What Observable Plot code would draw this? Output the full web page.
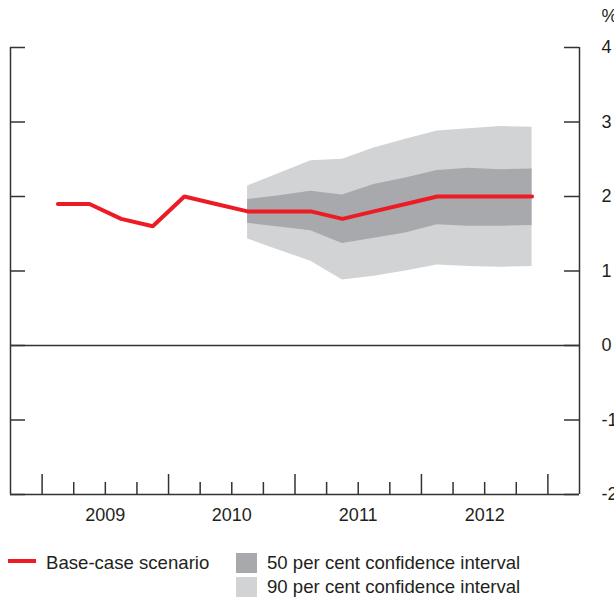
<!DOCTYPE html>
<html>
<head>
<meta charset="utf-8">
<script src="https://cdn.jsdelivr.net/npm/d3@7"></script>
<script src="https://cdn.jsdelivr.net/npm/@observablehq/plot@0.6"></script>
<style>
  html, body { margin: 0; padding: 0; background: #fff; }
  #chart svg { display: block; }
  #legend { position: relative; width: 614px; height: 60px; font-family: "Liberation Sans", Arial, sans-serif; font-size: 18.6px; color: #231f20; }
  #legend .item { position: absolute; line-height: 24px; white-space: nowrap; }
  #legend .sw { position: absolute; }
</style>
</head>
<body>
<div id="chart"></div>
<div id="legend">
  <span class="sw" style="left:8px;top:18px;width:28px;height:4px;background:#ed1c24"></span>
  <span class="item" style="left:46px;top:10px">Base-case scenario</span>
  <span class="sw" style="left:236px;top:12px;width:21px;height:20px;background:#a7a9ac"></span>
  <span class="item" style="left:267px;top:10px">50 per cent confidence interval</span>
  <span class="sw" style="left:236px;top:36px;width:21px;height:20px;background:#d1d3d4"></span>
  <span class="item" style="left:267px;top:34px">90 per cent confidence interval</span>
</div>
<script>
// ---- data ----
const quarters = ["2009Q1","2009Q2","2009Q3","2009Q4","2010Q1","2010Q2","2010Q3","2010Q4",
                  "2011Q1","2011Q2","2011Q3","2011Q4","2012Q1","2012Q2","2012Q3","2012Q4"];
const baseCase = [1.9, 1.9, 1.7, 1.6, 2.0, 1.9, 1.8, 1.8, 1.8, 1.7, 1.8, 1.9, 2.0, 2.0, 2.0, 2.0];

const fanQuarters = ["2010Q3","2010Q4","2011Q1","2011Q2","2011Q3","2011Q4","2012Q1","2012Q2","2012Q3","2012Q4"];
const lower90 = [1.43, 1.28, 1.13, 0.88, 0.93, 1.00, 1.08, 1.06, 1.05, 1.06];
const lower50 = [1.64, 1.59, 1.54, 1.37, 1.44, 1.51, 1.62, 1.60, 1.60, 1.61];
const upper50 = [1.96, 2.01, 2.07, 2.02, 2.16, 2.25, 2.35, 2.38, 2.36, 2.37];
const upper90 = [2.14, 2.31, 2.48, 2.50, 2.65, 2.77, 2.88, 2.91, 2.94, 2.93];

const years = [2009, 2010, 2011, 2012];
const yearTicks = [2009, 2010, 2011, 2012, 2013];
const quarterTicks = [2009.25, 2009.5, 2009.75, 2010.25, 2010.5, 2010.75,
                      2011.25, 2011.5, 2011.75, 2012.25, 2012.5, 2012.75];
const xDomain = [2008.75, 2013.25];
const yDomain = [-2, 4];
const yTicks = [4, 3, 2, 1, 0, -1, -2];

// ---- helpers ----
const qx = q => +q.slice(0, 4) + (+q.slice(5) - 1) / 4 + 0.125;
const base = quarters.map((q, i) => ({x: qx(q), v: baseCase[i]}));
const fan = fanQuarters.map((q, i) => ({x: qx(q), lo90: lower90[i], lo50: lower50[i], hi50: upper50[i], hi90: upper90[i]}));

const ink = "#333333";

const chart = Plot.plot({
  width: 614,
  height: 541,
  marginLeft: 10,
  marginRight: 35,
  marginTop: 47,
  marginBottom: 47,
  x: {domain: xDomain, axis: null},
  y: {domain: yDomain, axis: null},
  style: {fontFamily: "'Liberation Sans', Arial, sans-serif", fontSize: "18px", color: "#231f20", background: "#fff", overflow: "visible"},
  marks: [
    Plot.areaY(fan, {x: "x", y1: "lo90", y2: "hi90", fill: "#d1d3d4"}),
    Plot.areaY(fan, {x: "x", y1: "lo50", y2: "hi50", fill: "#a7a9ac"}),
    Plot.ruleY([0], {stroke: ink, strokeWidth: 1.5}),
    // frame: left, right, bottom
    Plot.ruleX(xDomain, {stroke: ink, strokeWidth: 1.5}),
    Plot.ruleY([yDomain[0]], {stroke: ink, strokeWidth: 1.5}),
    // y ticks (inward) on both sides
    Plot.ruleY(yTicks, {y: d => d, x1: xDomain[0], x2: xDomain[0], insetRight: -15, stroke: ink, strokeWidth: 1.5}),
    Plot.ruleY(yTicks, {y: d => d, x1: xDomain[1], x2: xDomain[1], insetLeft: -15, stroke: ink, strokeWidth: 1.5}),
    // x ticks (inward)
    Plot.ruleX(yearTicks, {x: d => d, y1: yDomain[0], y2: yDomain[0], insetTop: -20, stroke: ink, strokeWidth: 1.5}),
    Plot.ruleX(quarterTicks, {x: d => d, y1: yDomain[0], y2: yDomain[0], insetTop: -12, stroke: ink, strokeWidth: 1.5}),
    // labels
    Plot.text(yTicks, {x: xDomain[1], y: d => d, dx: 22, text: d => String(d), textAnchor: "start", fill: "#231f20"}),
    Plot.text(["%"], {x: xDomain[1], y: yDomain[1], dx: 22, dy: -31, text: d => d, textAnchor: "start", fill: "#231f20"}),
    Plot.text(years, {x: d => d + 0.5, y: yDomain[0], dy: 21, text: d => String(d), fill: "#231f20"}),
    // base-case line
    Plot.line(base, {x: "x", y: "v", stroke: "#ed1c24", strokeWidth: 4, strokeLinecap: "round", strokeLinejoin: "miter"})
  ]
});
document.getElementById("chart").appendChild(chart);
</script>
</body>
</html>
